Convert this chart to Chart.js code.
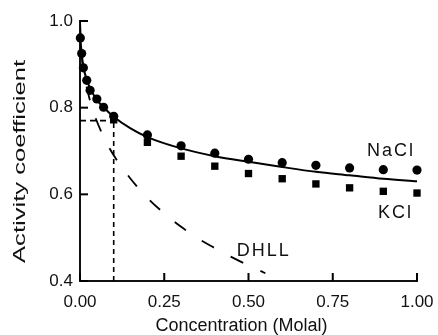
<!DOCTYPE html>
<html>
<head>
<meta charset="utf-8">
<script src="https://cdn.jsdelivr.net/npm/chart.js@4.4.1/dist/chart.umd.min.js"></script>
<style>
  html, body { margin: 0; padding: 0; background: #fff; }
  #wrap { width: 438px; height: 335px; }
</style>
</head>
<body>
<div id="wrap"><canvas id="chart" width="438" height="335"></canvas></div>
<script>
// molalidade (mol/kg) dos pontos medidos
var naclMolal = [0.001, 0.005, 0.01, 0.02, 0.03, 0.05, 0.07, 0.1, 0.2, 0.3, 0.4, 0.5, 0.6, 0.7, 0.8, 0.9, 1.0];
var naclGamma = [0.961, 0.925, 0.892, 0.863, 0.840, 0.820, 0.801, 0.780, 0.737, 0.712, 0.695, 0.681, 0.673, 0.667, 0.661, 0.657, 0.656];

var kclMolal = [0.1, 0.2, 0.3, 0.4, 0.5, 0.6, 0.7, 0.8, 0.9, 1.0];
var kclGamma = [0.772, 0.720, 0.688, 0.665, 0.648, 0.636, 0.624, 0.615, 0.607, 0.603];

// curva ajustada (linha cheia)
var fitMolal = [0.001, 0.005, 0.01, 0.02, 0.03, 0.05, 0.075, 0.1, 0.15, 0.2, 0.3, 0.4, 0.5, 0.6, 0.7, 0.8, 0.9, 1.0];
var fitGamma = [0.960, 0.925, 0.895, 0.864, 0.845, 0.818, 0.797, 0.779, 0.752, 0.732, 0.706, 0.688, 0.675, 0.663, 0.652, 0.644, 0.636, 0.630];

// lei limite de Debye-Hückel (tracejada)
var dhllMolal = [0, 0.005, 0.01, 0.02, 0.04, 0.07, 0.1, 0.15, 0.2, 0.25, 0.3, 0.35, 0.4, 0.45, 0.5, 0.55];
var dhllGamma = [1.0, 0.92, 0.889, 0.847, 0.79, 0.733, 0.69, 0.636, 0.592, 0.556, 0.525, 0.498, 0.476, 0.455, 0.436, 0.418];

// marcação em 0.1 molal
var markMolal = [0, 0.1];
var markGamma = [0.4, 0.77];

var xTicks = [0, 0.25, 0.5, 0.75, 1.0];
var yTicks = [0.4, 0.6, 0.8, 1.0];

var seriesLabels = ['NaCl', 'KCl', 'DHLL'];
var labelAt = [[0.923, 0.688, 'center'], [0.936, 0.545, 'center'], [0.465, 0.457, 'left']];

var xTitle = 'Concentration (Molal)';
var yTitle = 'Activity coefficient';

function toPoints(xs, ys) {
    return xs.map(function(x, i) { return { x: x, y: ys[i] }; });
}

var FONT = "'Liberation Sans', Arial, Helvetica, sans-serif";

// marcas dos eixos para dentro, rótulos das séries e títulos
var textPlugin = {
    id: 'textPlugin',
    afterDraw: function(chart) {
        var ctx = chart.ctx;
        var xs = chart.scales.x, ys = chart.scales.y;
        var left = xs.getPixelForValue(0);
        var bottom = ys.getPixelForValue(0.4);

        ctx.save();
        ctx.fillStyle = '#000';
        yTicks.forEach(function(v) {
            var py = ys.getPixelForValue(v);
            ctx.fillRect(left, py - 1, 8, 2);
        });
        xTicks.forEach(function(v) {
            var px = xs.getPixelForValue(v);
            ctx.fillRect(px - 1, bottom - 8, 2, 8);
        });
        ctx.restore();

        ctx.save();
        ctx.fillStyle = '#111';
        ctx.font = '18px ' + FONT;
        ctx.letterSpacing = '2px';
        ctx.textBaseline = 'alphabetic';
        seriesLabels.forEach(function(txt, i) {
            var p = labelAt[i];
            ctx.textAlign = p[2];
            ctx.fillText(txt, xs.getPixelForValue(p[0]), ys.getPixelForValue(p[1]));
        });
        ctx.restore();

        ctx.save();
        ctx.fillStyle = '#111';
        ctx.font = '18px ' + FONT;
        ctx.textAlign = 'center';
        ctx.textBaseline = 'alphabetic';
        ctx.fillText(xTitle, 241.5, 331);
        ctx.restore();

        ctx.save();
        ctx.fillStyle = '#111';
        ctx.font = '16px ' + FONT;
        var w = ctx.measureText(yTitle).width;
        ctx.translate(25, 161.5);
        ctx.rotate(-Math.PI / 2);
        ctx.scale(203 / w, 1);
        ctx.textAlign = 'center';
        ctx.textBaseline = 'alphabetic';
        ctx.fillText(yTitle, 0, 0);
        ctx.restore();
    }
};

var ctx = document.getElementById('chart');

new Chart(ctx, {
    type: 'scatter',
    data: {
        datasets: [
            {
                label: 'NaCl',
                data: toPoints(naclMolal, naclGamma),
                pointStyle: 'circle',
                pointRadius: 4.6,
                backgroundColor: '#000',
                borderWidth: 0,
                showLine: false,
                clip: false
            },
            {
                label: 'KCl',
                data: toPoints(kclMolal, kclGamma),
                pointStyle: 'rect',
                pointRadius: 5.2,
                backgroundColor: '#000',
                borderWidth: 0,
                showLine: false,
                clip: false
            },
            {
                label: 'fit',
                data: toPoints(fitMolal, fitGamma),
                showLine: true,
                pointRadius: 0,
                borderColor: '#000',
                borderWidth: 2,
                cubicInterpolationMode: 'monotone'
            },
            {
                label: 'DHLL',
                data: toPoints(dhllMolal, dhllGamma),
                showLine: true,
                pointRadius: 0,
                borderColor: '#000',
                borderWidth: 1.8,
                borderDash: [14, 19],
                cubicInterpolationMode: 'monotone'
            },
            {
                label: 'vertical',
                data: [{ x: markMolal[1], y: markGamma[0] }, { x: markMolal[1], y: markGamma[1] }],
                showLine: true,
                pointRadius: 0,
                borderColor: '#000',
                borderWidth: 1.6,
                borderDash: [5, 4]
            },
            {
                label: 'horizontal',
                data: [{ x: markMolal[0], y: markGamma[1] }, { x: markMolal[1], y: markGamma[1] }],
                showLine: true,
                pointRadius: 0,
                borderColor: '#000',
                borderWidth: 1.6,
                borderDash: [6, 4]
            }
        ]
    },
    options: {
        responsive: false,
        animation: false,
        layout: { padding: { top: 21, right: 21, left: 0, bottom: 0 } },
        plugins: {
            legend: { display: false },
            tooltip: { enabled: false }
        },
        scales: {
            x: {
                type: 'linear',
                min: 0,
                max: 1,
                afterFit: function(scale) {
                    scale.height = 54;
                    scale.paddingLeft = 0;
                    scale.paddingRight = 0;
                },
                afterBuildTicks: function(scale) {
                    scale.ticks = xTicks.map(function(v) { return { value: v }; });
                },
                ticks: {
                    color: '#111',
                    font: { family: FONT, size: 17 },
                    padding: 11,
                    maxRotation: 0,
                    callback: function(v) { return Number(v).toFixed(2); }
                },
                grid: { display: false, drawTicks: false },
                border: { display: true, color: '#111', width: 2 }
            },
            y: {
                type: 'linear',
                min: 0.4,
                max: 1.0,
                afterFit: function(scale) {
                    scale.width = 80;
                    scale.paddingTop = 0;
                    scale.paddingBottom = 0;
                },
                afterBuildTicks: function(scale) {
                    scale.ticks = yTicks.map(function(v) { return { value: v }; });
                },
                ticks: {
                    color: '#111',
                    font: { family: FONT, size: 17 },
                    padding: 7,
                    callback: function(v) { return Number(v).toFixed(1); }
                },
                grid: { display: false, drawTicks: false },
                border: { display: true, color: '#111', width: 2 }
            }
        }
    },
    plugins: [textPlugin]
});
</script>
</body>
</html>
